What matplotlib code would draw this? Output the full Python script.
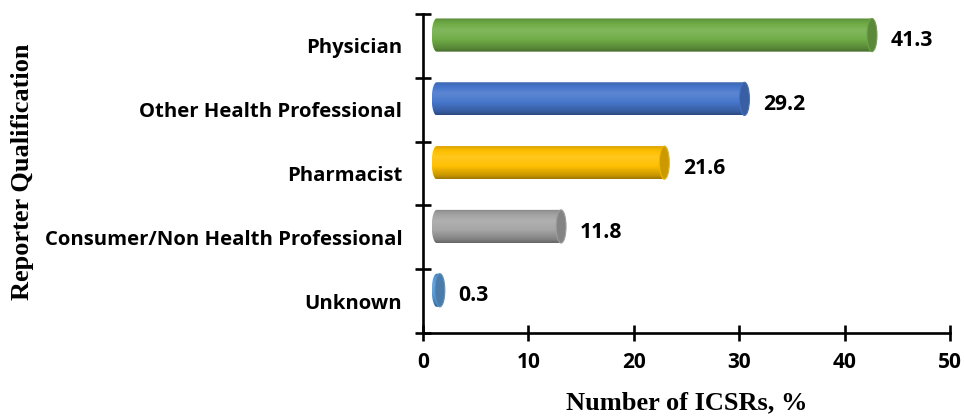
import numpy as np
import matplotlib
matplotlib.use("Agg")
import matplotlib.pyplot as plt
from matplotlib.patches import Ellipse, Polygon
from matplotlib.colors import to_rgb

# Reporter qualification shares (percent of ICSRs)
categories = ["Physician", "Other Health Professional", "Pharmacist",
              "Consumer/Non Health Professional", "Unknown"]
values = [41.3, 29.2, 21.6, 11.8, 0.3]
bar_colors = ["#70AD47", "#4676CC", "#FFC000", "#A5A5A5", "#5B9BD5"]
xticks = [0, 10, 20, 30, 40, 50]

LABEL_FONT = ["Open Sans", "DejaVu Sans"]
TITLE_FONT = ["Liberation Serif", "DejaVu Serif"]

fig = plt.figure(figsize=(9.64, 4.16), dpi=100)
W, H = 964, 416
ax = fig.add_axes([423 / W, 1 - 333 / H, (950 - 423) / W, (333 - 14) / H])

ax.set_xlim(0, 50)
ax.set_ylim(len(categories) - 0.5, -0.5)

# cylinder geometry (3D projection look)
depth = 1.3        # perspective offset of the cylinders along x
lift = 0.17        # cylinders sit slightly above the category centre
a = 0.47           # horizontal semi-axis of the end caps (x units)
b = 0.26           # half height of the cylinder (y units)


def shade(base, f):
    c = np.array(to_rgb(base))
    if f >= 1:
        return c + (1 - c) * (f - 1)
    return c * f


def gradient_image(base, n=64):
    t = np.linspace(0, 1, n)
    prof = np.interp(t, [0, 0.08, 0.35, 0.6, 0.9, 1.0],
                     [0.8, 0.92, 1.12, 1.02, 0.78, 0.62])
    rows = np.array([shade(base, f) for f in prof])
    return np.repeat(rows[:, None, :], 4, axis=1)


for i, (v, col) in enumerate(zip(values, bar_colors)):
    yc = i - lift
    x0, x1 = depth, depth + v
    # body with curved left end
    th = np.linspace(np.pi / 2, 3 * np.pi / 2, 40)
    arc = np.column_stack([x0 + a * np.cos(th), yc - b * np.sin(th)])
    pts = np.vstack([[x1, yc - b], arc, [x1, yc + b]])
    clip = Polygon(pts, closed=True, facecolor="none", edgecolor="none")
    ax.add_patch(clip)
    im = ax.imshow(gradient_image(col), extent=(x0 - a, x1, yc + b, yc - b),
                   aspect="auto", interpolation="bilinear", zorder=2)
    im.set_clip_path(clip)
    # end cap
    cap = Ellipse((x1, yc), 2 * a, 2 * b, facecolor=shade(col, 0.8),
                  edgecolor=shade(col, 0.95), linewidth=0.8, zorder=3)
    ax.add_patch(cap)
    # value label
    ax.text(x1 + a + 1.3, i - 0.08, f"{v}", ha="left", va="center",
            fontsize=15.2, fontweight="bold", family=LABEL_FONT, color="black")

ax.set_xlim(0, 50)
ax.set_ylim(len(categories) - 0.5, -0.5)

# axes styling
for s in ["top", "right"]:
    ax.spines[s].set_visible(False)
for s in ["left", "bottom"]:
    ax.spines[s].set_linewidth(1.9)
    ax.spines[s].set_color("black")

ax.set_xticks(xticks)
ax.set_xticklabels([str(t) for t in xticks], fontsize=15, fontweight="bold",
                   family=LABEL_FONT)
ax.tick_params(axis="x", direction="inout", length=11, width=1.9, pad=8)

ax.set_yticks(np.arange(len(categories) + 1) - 0.5)
ax.set_yticklabels([])
ax.set_yticks(np.arange(len(categories)), minor=True)
ax.set_yticklabels(categories, minor=True, fontsize=14.6, fontweight="bold",
                   family=LABEL_FONT)
ax.tick_params(axis="y", which="major", direction="inout", length=11, width=1.9)
ax.tick_params(axis="y", which="minor", length=0, pad=15)

fig.text(687 / W, 1 - 403 / H, "Number of ICSRs, %", ha="center", va="center",
         fontsize=19, fontweight="bold", family=TITLE_FONT)
fig.text(23 / W, 1 - 172 / H, "Reporter Qualification", ha="center",
         va="center", rotation=90, fontsize=19, fontweight="bold",
         family=TITLE_FONT)

fig.savefig("out.png", dpi=100)
